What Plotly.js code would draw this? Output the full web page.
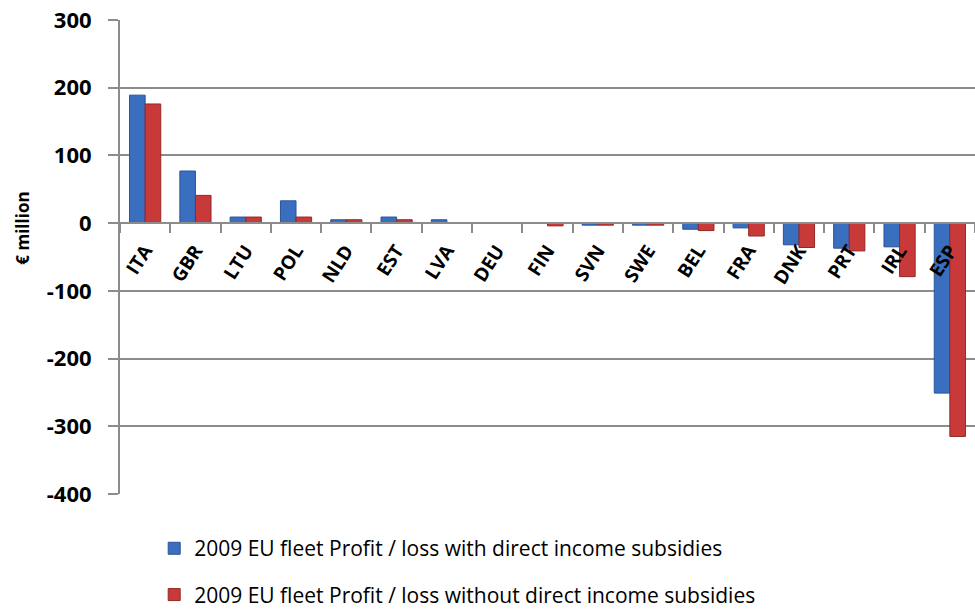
<!DOCTYPE html>
<html>
<head>
<meta charset="utf-8">
<script src="https://cdn.plot.ly/plotly-3.0.1.min.js"></script>
<style>html,body{margin:0;padding:0;background:#fff;}#chart{width:975px;height:609px;}</style>
</head>
<body>
<div id="chart"></div>
<script>
const countries = ["ITA","GBR","LTU","POL","NLD","EST","LVA","DEU","FIN","SVN","SWE","BEL","FRA","DNK","PRT","IRL","ESP"];
const withSubsidies = [189, 77, 9, 33, 5, 9, 5, 0, 0, -3, -3, -9, -7, -32, -37, -35, -251];
const withoutSubsidies = [176, 41, 9, 9, 5, 5, 0, 0, -4, -3, -3, -11, -19, -36, -41, -79, -315];
const seriesNames = ["2009 EU fleet Profit / loss with direct income subsidies",
                     "2009 EU fleet Profit / loss without direct income subsidies"];
const yTicks = [300, 200, 100, 0, -100, -200, -300, -400];
const yTitle = "€ million";

const font = "Open Sans, Liberation Sans, sans-serif";
const traces = [
  {type:"bar", x:countries, y:withSubsidies, name:seriesNames[0], legendgroup:"a",
   marker:{color:"#3a6fc0", line:{color:"#2a5396", width:1}}},
  {type:"bar", x:countries, y:withoutSubsidies, name:seriesNames[1], legendgroup:"b",
   marker:{color:"#c83a3a", line:{color:"#952626", width:1}}}
];
const layout = {
  width:975, height:609,
  margin:{l:120, r:0, t:20, b:115, autoexpand:false},
  paper_bgcolor:"#fff", plot_bgcolor:"#fff",
  barmode:"group", bargap:0.38, bargroupgap:0,
  showlegend:true,
  legend:{orientation:"v", x:0.04, xanchor:"left", y:-0.072, yanchor:"top",
          traceorder:"grouped", tracegroupgap:16, itemwidth:30,
          font:{family:font, size:21, color:"#000"}},
  xaxis:{type:"category", anchor:"free", position:400/700,
         showline:true, linecolor:"#8c8c8c", linewidth:2,
         ticks:"outside", tickson:"boundaries", ticklen:9, tickcolor:"#8c8c8c", tickwidth:2,
         ticklabelstandoff:8,
         tickangle:-57, showgrid:false, zeroline:false,
         tickfont:{family:font, size:19, color:"#000", weight:"bold"}},
  yaxis:{range:[-400,300], tickvals:yTicks, ticktext:yTicks.map(String),
         showline:true, linecolor:"#8c8c8c", linewidth:2,
         ticks:"outside", ticklen:10, tickcolor:"#8c8c8c", tickwidth:2, ticklabelstandoff:12,
         showgrid:true, gridcolor:"#8c8c8c", gridwidth:2, zeroline:false,
         tickfont:{family:font, size:22, color:"#000", weight:"bold"}},
  annotations:[{text:yTitle, textangle:-90, xref:"paper", yref:"paper",
                x:-0.115, y:1-(228-20)/474, xanchor:"center", yanchor:"middle",
                showarrow:false, font:{family:font, size:17, color:"#000", weight:"bold"}}]
};
Plotly.newPlot("chart", traces, layout, {displayModeBar:false, staticPlot:true});
</script>
</body>
</html>
